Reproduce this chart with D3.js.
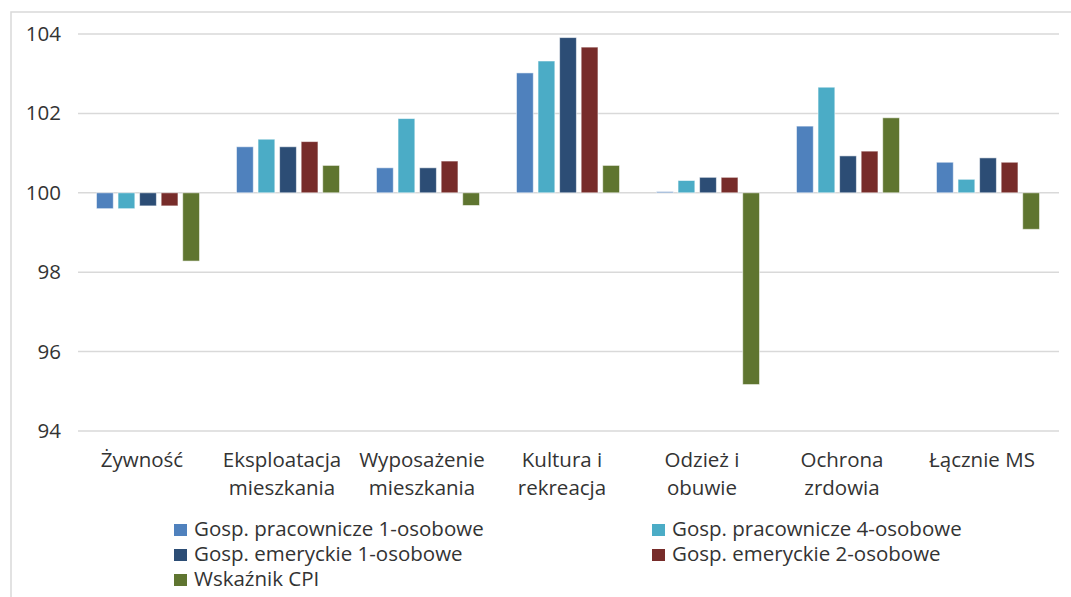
<!DOCTYPE html>
<html>
<head>
<meta charset="utf-8">
<script src="https://cdn.jsdelivr.net/npm/d3@7"></script>
<style>
  body { margin: 0; background: #fff; }
  text { font-family: "Open Sans", sans-serif; fill: #333333; }
</style>
</head>
<body>
<div id="chart"></div>
<script>
var categories = [
    ["Żywność"],
    ["Eksploatacja", "mieszkania"],
    ["Wyposażenie", "mieszkania"],
    ["Kultura i", "rekreacja"],
    ["Odzież i", "obuwie"],
    ["Ochrona", "zrdowia"],
    ["Łącznie MS"]
];
var seriesNames = [
    "Gosp. pracownicze 1-osobowe",
    "Gosp. pracownicze 4-osobowe",
    "Gosp. emeryckie 1-osobowe",
    "Gosp. emeryckie 2-osobowe",
    "Wskaźnik CPI"
];
var prac1 = [99.6, 101.16, 100.63, 103.02, 100.03, 101.68, 100.77];
var prac4 = [99.6, 101.35, 101.87, 103.32, 100.31, 102.66, 100.34];
var emer1 = [99.67, 101.16, 100.63, 103.91, 100.39, 100.93, 100.88];
var emer2 = [99.67, 101.29, 100.8, 103.67, 100.39, 101.05, 100.77];
var cpi = [98.28, 100.69, 99.68, 100.69, 95.17, 101.89, 99.08];
var yTicks = [94, 96, 98, 100, 102, 104];

var seriesValues = [prac1, prac4, emer1, emer2, cpi];
var colors = ["#4f81bd", "#4bacc6", "#2c4d75", "#772c2a", "#5f7530"];

var width = 1071, height = 597;
var fontSize = "20.5px";

var svg = d3.select("#chart")
        .append("svg")
        .attr("width", width)
        .attr("height", height);

// chart frame (right and bottom edges fall outside the picture)
svg.append("rect")
        .attr("x", 11)
        .attr("y", 12)
        .attr("width", 1200)
        .attr("height", 800)
        .attr("fill", "none")
        .attr("stroke", "#d9d9d9")
        .attr("stroke-width", 1.5);

var x0 = d3.scaleBand()
        .domain(d3.range(categories.length))
        .range([78, 1058])
        .paddingInner(0.264)
        .paddingOuter(0.132);

var x1 = d3.scaleBand()
        .domain(d3.range(seriesNames.length))
        .range([0, x0.bandwidth()])
        .paddingInner(0.22);

var y = d3.scaleLinear()
        .domain([94, 104])
        .range([431, 34]);

// gridlines
svg.append("g")
        .selectAll("line")
        .data(yTicks)
        .join("line")
        .attr("x1", 78)
        .attr("x2", 1059)
        .attr("y1", function (d) { return y(d); })
        .attr("y2", function (d) { return y(d); })
        .attr("stroke", "#d9d9d9")
        .attr("stroke-width", 1.5);

// y axis labels
var yAxis = d3.axisLeft(y).tickValues(yTicks).tickSize(0).tickPadding(0);
var yg = svg.append("g")
        .attr("transform", "translate(61,0)")
        .call(yAxis);
yg.select(".domain").remove();
yg.selectAll("text")
        .attr("font-family", "Open Sans, sans-serif")
        .attr("font-size", fontSize)
        .attr("fill", "#333333");

// bars
var groups = svg.append("g")
        .selectAll("g")
        .data(categories)
        .join("g")
        .attr("transform", function (d, i) { return "translate(" + x0(i) + ",0)"; });

groups.selectAll("rect")
        .data(function (d, i) {
            return seriesValues.map(function (s, j) { return { s: j, v: s[i] }; });
        })
        .join("rect")
        .attr("x", function (d) { return x1(d.s); })
        .attr("width", x1.bandwidth())
        .attr("y", function (d) { return y(Math.max(d.v, 100)); })
        .attr("height", function (d) { return Math.abs(y(d.v) - y(100)); })
        .attr("fill", function (d) { return colors[d.s]; })
        .attr("stroke", "#ffffff")
        .attr("stroke-opacity", 0.55)
        .attr("stroke-width", 1);

// category labels
var labels = svg.append("g")
        .selectAll("text")
        .data(categories)
        .join("text")
        .attr("x", function (d, i) { return x0(i) + x0.bandwidth() / 2 - 6; })
        .attr("y", 467)
        .attr("text-anchor", "middle")
        .attr("font-size", fontSize);

labels.selectAll("tspan")
        .data(function (d) { return d; })
        .join("tspan")
        .attr("x", function () { return d3.select(this.parentNode).attr("x"); })
        .attr("dy", function (d, i) { return i === 0 ? 0 : 28; })
        .text(function (d) { return d; });

// legend
var legendCols = [174, 652];
var legend = svg.append("g")
        .selectAll("g")
        .data(seriesNames)
        .join("g")
        .attr("transform", function (d, i) {
            return "translate(" + legendCols[i % 2] + "," + (524 + Math.floor(i / 2) * 25) + ")";
        });

legend.append("rect")
        .attr("width", 13)
        .attr("height", 12)
        .attr("fill", function (d, i) { return colors[i]; });

legend.append("text")
        .attr("x", 20)
        .attr("y", 12)
        .attr("font-size", fontSize)
        .text(function (d) { return d; });
</script>
</body>
</html>
